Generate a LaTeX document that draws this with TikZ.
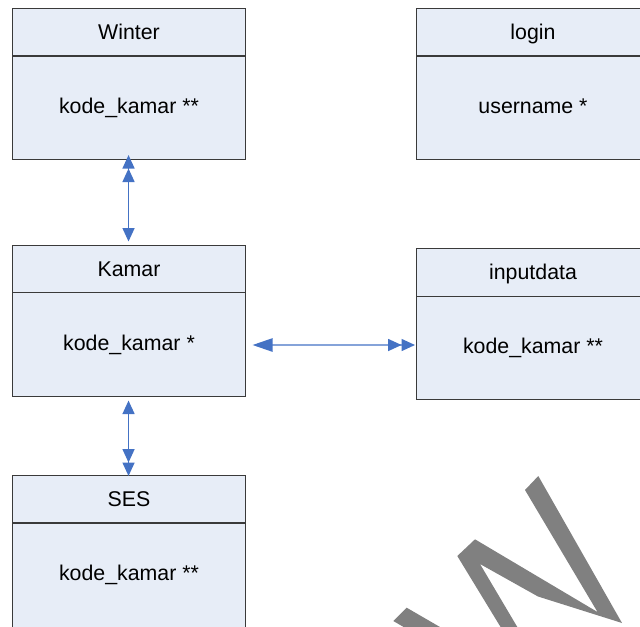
\documentclass[tikz,border=0pt]{standalone}
\usepackage{fontspec}
\setmainfont{Liberation Sans}
\usetikzlibrary{arrows.meta,calc}
\definecolor{boxfill}{HTML}{E7EDF7}
\definecolor{boxline}{HTML}{3A3A3A}
\definecolor{linkblue}{HTML}{4472C4}
\definecolor{markgray}{HTML}{808080}

\begin{document}
\begin{tikzpicture}[x=0.75pt,y=-0.75pt,
  entity/.style={draw=boxline, fill=boxfill, line width=0.8pt,
    minimum width=174.75pt, minimum height=113.25pt, inner sep=0pt, anchor=north west},
  divider/.style={draw=boxline, line width=0.8pt},
  headtext/.style={font=\fontsize{16pt}{19pt}\selectfont, text=black, inner sep=0pt,
    text height=11.5pt, text depth=0pt},
  boxtext/.style={headtext},
  conn/.style={draw=linkblue, line width=1.1pt},
  >={Triangle[length=10.1pt,width=9pt]},
  ]
\useasboundingbox (0,0) rectangle (640,626);
\clip (0,0) rectangle (640,626);

% Winter
\node[entity] (winter) at (12,8) {};
\draw[divider] ($(winter.north west)+(0,48)$) -- ($(winter.north east)+(0,48)$);
\node[headtext] (winterhead) at ($(winter.north)+(0,24)$) {Winter};
\node[boxtext] (winterbody) at ($(winter.north)+(0,98)$) {kode\_kamar **};

% login
\node[entity] (login) at (416,8) {};
\draw[divider] ($(login.north west)+(0,48)$) -- ($(login.north east)+(0,48)$);
\node[headtext] (loginhead) at ($(login.north)+(0,24)$) {login};
\node[boxtext] (loginbody) at ($(login.north)+(0,98)$) {username *};

% Kamar
\node[entity] (kamar) at (12,244.5) {};
\draw[divider] ($(kamar.north west)+(0,48)$) -- ($(kamar.north east)+(0,48)$);
\node[headtext] (kamarhead) at ($(kamar.north)+(0,24)$) {Kamar};
\node[boxtext] (kamarbody) at ($(kamar.north)+(0,98)$) {kode\_kamar *};

% inputdata
\node[entity] (inputdata) at (416,248.3) {};
\draw[divider] ($(inputdata.north west)+(0,48)$) -- ($(inputdata.north east)+(0,48)$);
\node[headtext] (inputdatahead) at ($(inputdata.north)+(0,24)$) {inputdata};
\node[boxtext] (inputdatabody) at ($(inputdata.north)+(0,98)$) {kode\_kamar **};

% SES
\node[entity, minimum height=120pt] (ses) at (12,475) {};
\draw[divider] ($(ses.north west)+(0,48)$) -- ($(ses.north east)+(0,48)$);
\node[headtext] (seshead) at ($(ses.north)+(0,24)$) {SES};
\node[boxtext] (sesbody) at ($(ses.north)+(0,98)$) {kode\_kamar **};

% relations
\draw[conn, <<->] ($(winter.south)+(-0.5,-5)$) -- ($(kamar.north)+(-0.5,-3)$);
\draw[conn, {Triangle[length=15pt,width=10pt]}->>]
  ($(kamar.north east)+(6.5,100.5)$) -- ($(inputdata.north west)+(-1,96.7)$);
\draw[conn, <->>] ($(kamar.south)+(-0.5,4)$) -- ($(ses.north)+(-0.5,1)$);

% grey watermark strokes
\fill[markgray] (508.5,640) -- (457.3,556) -- (475,539.3) -- (597.5,612) -- (525,490)
  -- (538.3,476) -- (622,623) -- (538,596.5) -- (480,564) -- (525,640) -- cycle;
\fill[markgray] (393.3,621) -- (406.7,607.7) -- (462.4,640) -- (426,640) -- cycle;
\end{tikzpicture}
\end{document}
